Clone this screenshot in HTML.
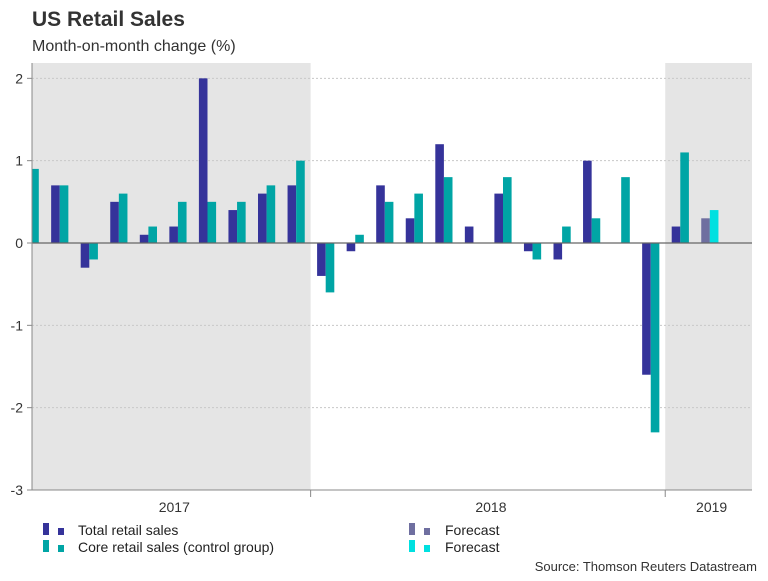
<!DOCTYPE html>
<html><head><meta charset="utf-8"><style>
body{margin:0;background:#fff;font-family:"Liberation Sans",sans-serif}
svg text{font-family:"Liberation Sans",sans-serif}
</style></head><body>
<svg width="768" height="576" viewBox="0 0 768 576">
<defs><clipPath id="pc"><rect x="32" y="63" width="720" height="427"/></clipPath></defs>
<text x="32" y="26" font-size="21" font-weight="bold" fill="#333">US Retail Sales</text>
<text x="32" y="51" font-size="16" fill="#333">Month-on-month change (%)</text>
<g id="plot"></g>
<g font-size="14" fill="#222">
<rect x="43" y="523" width="6" height="12" fill="#35339a"/><rect x="58" y="528" width="6" height="7" fill="#35339a"/>
<text x="78" y="535">Total retail sales</text>
<rect x="43" y="540" width="6" height="12" fill="#00a5a5"/><rect x="58" y="545" width="6" height="7" fill="#00a5a5"/>
<text x="78" y="552">Core retail sales (control group)</text>
<rect x="409" y="523" width="6" height="12" fill="#6f6fa0"/><rect x="424" y="528" width="6" height="7" fill="#6f6fa0"/>
<text x="445" y="535">Forecast</text>
<rect x="409" y="540" width="6" height="12" fill="#00e0e0"/><rect x="424" y="545" width="6" height="7" fill="#00e0e0"/>
<text x="445" y="552">Forecast</text>
</g>
<text x="757" y="571" font-size="13" fill="#333" text-anchor="end">Source: Thomson Reuters Datastream</text>
</svg>
<script>
const totalSales=[null,0.7,-0.3,0.5,0.1,0.2,2.0,0.4,0.6,0.7,-0.4,-0.1,0.7,0.3,1.2,0.2,0.6,-0.1,-0.2,1.0,0.0,-1.6,0.2,null];
const coreSales=[0.9,0.7,-0.2,0.6,0.2,0.5,0.5,0.5,0.7,1.0,-0.6,0.1,0.5,0.6,0.8,0.0,0.8,-0.2,0.2,0.3,0.8,-2.3,1.1,null];
const forecastTotal=[null,null,null,null,null,null,null,null,null,null,null,null,null,null,null,null,null,null,null,null,null,null,null,0.3];
const forecastCore=[null,null,null,null,null,null,null,null,null,null,null,null,null,null,null,null,null,null,null,null,null,null,null,0.4];
const yTicks=[2,1,0,-1,-2,-3];
const years=[{label:"2017",from:-0.5,to:9.5,shade:true},{label:"2018",from:9.5,to:21.5,shade:false},{label:"2019",from:21.5,to:24.5,shade:true}];
const NS="http://www.w3.org/2000/svg";
const g=document.getElementById('plot');
const L=32,R=752,T=63,B=490;
const y=v=>243-v*82.33;
const step=29.55,x0=21.6,bw=8.6;
const xg=i=>x0+i*step;
const xb=i=>xg(i)+bw/2+4; // period boundary position
function mk(t,a){const e=document.createElementNS(NS,t);for(const k in a)e.setAttribute(k,a[k]);g.appendChild(e);return e;}
years.forEach(yr=>{
 const a=Math.max(L,xb(yr.from)),b=Math.min(R,xb(yr.to));
 if(yr.shade){const r=mk('rect',{x:a,y:T,width:b-a,height:B-T,fill:'#e5e5e5'});
 
 }
 const t=mk('text',{x:(a+b)/2+3,y:512,'font-size':14,fill:'#333','text-anchor':'middle'});t.textContent=yr.label;
 
 
 if(yr.from>0){const tk=mk('line',{x1:a,x2:a,y1:B,y2:B+7,stroke:'#888'});
 
 }
});
yTicks.forEach(v=>{
 if(v!==0&&v!==-3){const gl=mk('line',{x1:L,x2:R,y1:y(v),y2:y(v),stroke:'#c8c8c8','stroke-dasharray':'2,2'});
 
 }
 mk('line',{x1:L-5,x2:L,y1:y(v),y2:y(v),stroke:'#888'});
 const t=mk('text',{x:23,y:y(v)+5,'font-size':14,fill:'#333','text-anchor':'end'});t.textContent=v;
 
 
});
const bars=document.createElementNS(NS,'g');bars.setAttribute('clip-path','url(#pc)');g.appendChild(bars);
function bar(i,v,off,col,name){
 if(v===null)return;
 const r=document.createElementNS(NS,'rect');
 const x=xg(i)+off;
 r.setAttribute('x',x);r.setAttribute('width',bw);
 r.setAttribute('y',Math.min(y(v),y(0)));r.setAttribute('height',Math.abs(y(v)-y(0)));
 r.setAttribute('fill',col);
 
 
 bars.appendChild(r);
}
for(let i=0;i<totalSales.length;i++){
 bar(i,totalSales[i],0,'#35339a','bar-total');
 bar(i,coreSales[i],bw,'#00a5a5','bar-core');
 bar(i,forecastTotal[i],0,'#6f6fa0','bar-forecast-total');
 bar(i,forecastCore[i],bw,'#00e0e0','bar-forecast-core');
}
const z=mk('line',{x1:L,x2:R,y1:y(0),y2:y(0),stroke:'#666','stroke-width':1.2});


const ya=mk('line',{x1:L,x2:L,y1:T,y2:B,stroke:'#888'});


const xa=mk('line',{x1:L,x2:R,y1:B,y2:B,stroke:'#888'});


</script>
</body></html>
